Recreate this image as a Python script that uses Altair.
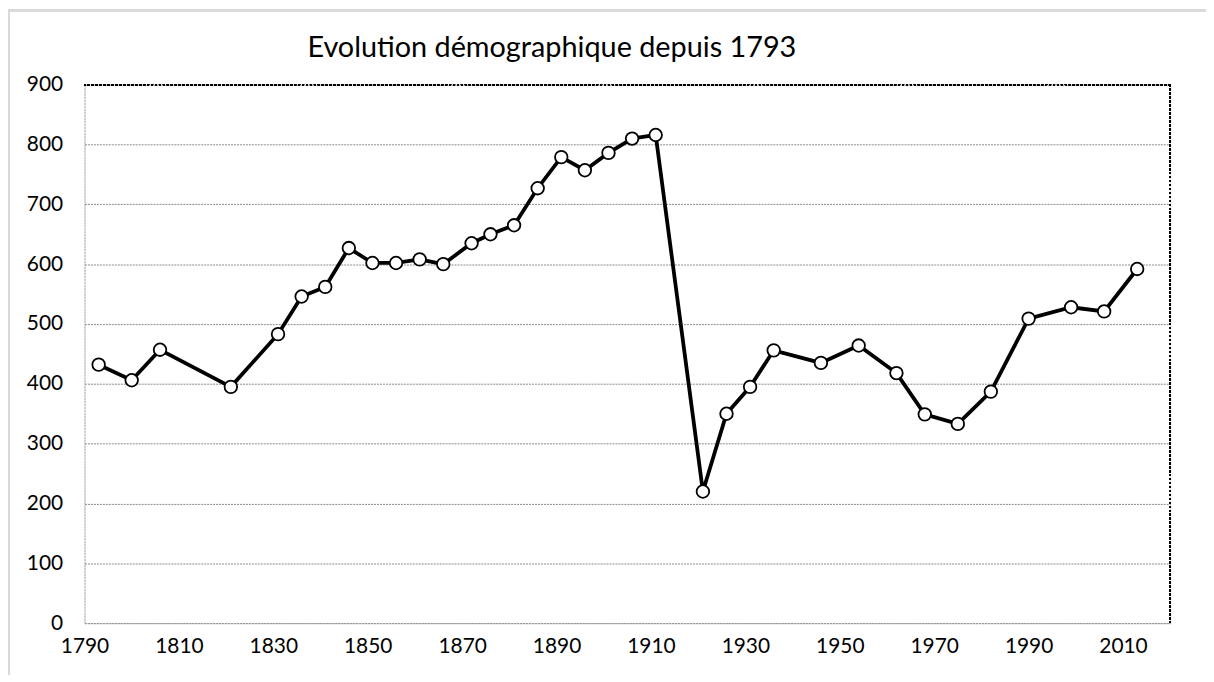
import altair as alt
import pandas as pd

years = [1793, 1800, 1806, 1821, 1831, 1836, 1841, 1846, 1851, 1856, 1861, 1866,
         1872, 1876, 1881, 1886, 1891, 1896, 1901, 1906, 1911, 1921, 1926, 1931,
         1936, 1946, 1954, 1962, 1968, 1975, 1982, 1990, 1999, 2006, 2013]
population = [432, 406, 457, 395, 483, 546, 562, 627, 602, 602, 608, 600,
              635, 650, 665, 727, 779, 757, 786, 810, 816, 220, 350, 395,
              456, 435, 464, 418, 349, 333, 387, 509, 528, 521, 592]
x_ticks = [1790, 1810, 1830, 1850, 1870, 1890, 1910, 1930, 1950, 1970, 1990, 2010]
y_ticks = [0, 100, 200, 300, 400, 500, 600, 700, 800, 900]

df = pd.DataFrame({"annee": years, "pop": population})

FONT = "Lato"

x_scale = alt.Scale(domain=[1790, 2020], nice=False, zero=False)
y_scale = alt.Scale(domain=[0, 900], nice=False)

x_axis = alt.Axis(values=x_ticks, format="d", title=None, grid=False, ticks=False,
                  domainColor="#9a9a9a", domainDash=[2, 1], domainWidth=1,
                  labelFontSize=21, labelFont=FONT, labelColor="#000",
                  labelPadding=13, labelFlush=False)
y_axis = alt.Axis(values=y_ticks, title=None, ticks=False, grid=True,
                  gridColor="#8a8a8a", gridDash=[2, 1], gridWidth=1,
                  domainColor="#b0b0b0", domainDash=[2, 1], domainWidth=1,
                  labelFontSize=21, labelFont=FONT, labelColor="#000",
                  labelPadding=22)

x_enc = alt.X("annee:Q", scale=x_scale, axis=x_axis)
y_enc = alt.Y("pop:Q", scale=y_scale, axis=y_axis)

frame = alt.Chart(df).mark_rect(fill=None, stroke="#d9d9d9", strokeWidth=2).encode(
    x=alt.value(-76), x2=alt.value(1300), y=alt.value(-75), y2=alt.value(700))

line = alt.Chart(df).mark_line(color="#000", strokeWidth=3.8).encode(x=x_enc, y=y_enc)
pts = alt.Chart(df).mark_point(shape="circle", filled=True, fill="#fff", stroke="#000",
                               strokeWidth=1.8, size=160, opacity=1).encode(x=x_enc, y=y_enc)

top_rule = alt.Chart(df).mark_rule(color="#000", strokeDash=[2, 2], strokeWidth=1.5).encode(
    y=alt.datum(900, scale=y_scale, axis=y_axis))
right_rule = alt.Chart(df).mark_rule(color="#000", strokeDash=[2, 2], strokeWidth=1.5).encode(
    x=alt.datum(2020, scale=x_scale, axis=x_axis))

chart = alt.layer(line, pts, top_rule, right_rule, frame).properties(
    width=1093, height=542,
    title=alt.TitleParams("Evolution démographique depuis 1793", fontSize=29, font=FONT,
                          fontWeight="normal", color="#000", anchor="middle", dx=-76,
                          offset=-77, baseline="alphabetic"),
    autosize=alt.AutoSizeParams(type="none"),
    padding={"left": 77, "top": 75, "right": 36, "bottom": 50},
).configure_view(stroke=None).configure(background="#ffffff")

chart.save("out.html", embed_options={"renderer": "svg", "actions": False})
